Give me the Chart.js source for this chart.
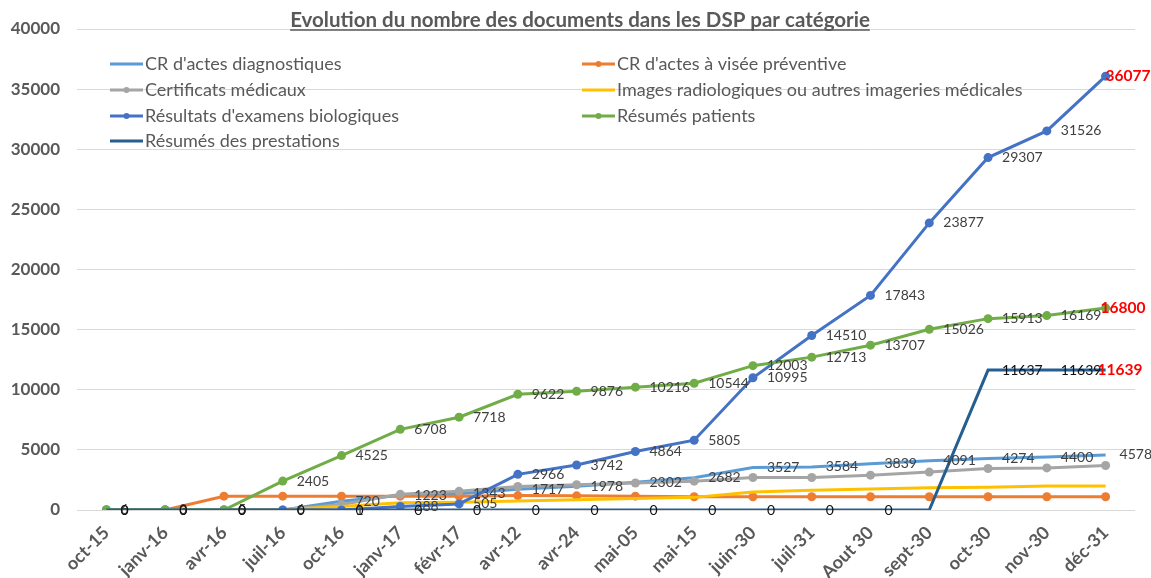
<!DOCTYPE html>
<html>
<head>
<meta charset="utf-8">
<script src="https://cdn.jsdelivr.net/npm/chart.js@4.4.1/dist/chart.umd.min.js"></script>
<style>
    html, body { margin: 0; padding: 0; background: #fff; }
</style>
</head>
<body>
<canvas id="docChart" width="1151" height="578"></canvas>
<script>
// categories
const months = ['oct-15', 'janv-16', 'avr-16', 'juil-16', 'oct-16', 'janv-17', 'févr-17', 'avr-12', 'avr-24',
    'mai-05', 'mai-15', 'juin-30', 'juil-31', 'Aout 30', 'sept-30', 'oct-30', 'nov-30', 'déc-31'];

// series
const crDiagnostiques = [0, 0, 0, 0, 720, 1223, 1343, 1717, 1978, 2302, 2682, 3527, 3584, 3839, 4091, 4274, 4400, 4578];
const crPreventive = [0, 0, 1150, 1150, 1150, 1150, 1150, 1200, 1180, 1150, 1100, 1100, 1100, 1100, 1100, 1100, 1100, 1100];
const certificats = [0, 0, 0, 0, 450, 1300, 1550, 1950, 2100, 2250, 2400, 2700, 2700, 2900, 3150, 3450, 3500, 3700];
const images = [0, 0, 0, 50, 300, 600, 650, 750, 850, 950, 1050, 1500, 1650, 1750, 1850, 1900, 2000, 2000];
const biologiques = [6, 3, 5, 6, 1, 288, 505, 2966, 3742, 4864, 5805, 10995, 14510, 17843, 23877, 29307, 31526, 36077];
const resumesPatients = [0, 0, 0, 2405, 4525, 6708, 7718, 9622, 9876, 10216, 10544, 12003, 12713, 13707, 15026, 15913, 16169, 16800];
const prestations = [0, 0, 0, 0, 0, 0, 0, 0, 0, 0, 0, 0, 0, 0, 0, 11637, 11639, 11639];

// y axis
const yMin = 0;
const yMax = 40000;
const yStep = 5000;

const FONT = 'Lato, "Open Sans", sans-serif';

function makeSeries(label, data, color, markers, order, extra) {
    return Object.assign({
        label: label,
        data: data,
        borderColor: color,
        backgroundColor: color,
        borderWidth: 3,
        pointRadius: markers ? 4.5 : 0,
        pointBorderWidth: 0,
        pointBackgroundColor: color,
        hasMarker: markers,
        tension: 0,
        order: order
    }, extra || {});
}

const datasets = [
    makeSeries("CR d'actes diagnostiques", crDiagnostiques, '#5B9BD5', false, 6,
        { showValues: true, labelFrom: 4 }),
    makeSeries("CR d'actes à visée préventive", crPreventive, '#ED7D31', true, 5),
    makeSeries('Certificats médicaux', certificats, '#A5A5A5', true, 4),
    makeSeries('Images radiologiques ou autres imageries médicales', images, '#FFC000', false, 3),
    makeSeries("Résultats d'examens biologiques", biologiques, '#4472C4', true, 2,
        { showValues: true, labelFrom: 0, redLast: true, lastOffset: 0 }),
    makeSeries('Résumés patients', resumesPatients, '#70AD47', true, 1,
        { showValues: true, labelFrom: 0, redLast: true, lastOffset: -5 }),
    makeSeries('Résumés des prestations', prestations, '#255E91', false, 0,
        { showValues: true, labelFrom: 0, labelSkip: [14], labelColor: '#111', redLast: true, lastOffset: -8 })
];

// value labels right of the points
const valueLabels = {
    id: 'valueLabels',
    afterDatasetsDraw(chart) {
        const ctx = chart.ctx;
        chart.data.datasets.forEach((ds, i) => {
            if (!ds.showValues) return;
            const meta = chart.getDatasetMeta(i);
            meta.data.forEach((pt, j) => {
                if (j < ds.labelFrom || (ds.labelSkip || []).includes(j)) return;
                const last = ds.redLast && j === ds.data.length - 1;
                ctx.save();
                ctx.font = last ? 'bold 15.5px ' + FONT : '14px ' + FONT;
                ctx.fillStyle = last ? '#FF0000' : (ds.labelColor || '#404040');
                ctx.textBaseline = 'middle';
                ctx.textAlign = 'left';
                ctx.fillText(String(ds.data[j]), pt.x + (last ? ds.lastOffset : 14), pt.y);
                ctx.restore();
            });
        });
    }
};

// legend inside the plot, two columns
const insideLegend = {
    id: 'insideLegend',
    afterDraw(chart) {
        const ctx = chart.ctx;
        const colX = [110, 582];
        const rowY = [64, 90, 116, 141];
        chart.data.datasets.forEach((ds, k) => {
            const x = colX[k % 2];
            const y = rowY[Math.floor(k / 2)];
            ctx.save();
            ctx.strokeStyle = ds.borderColor;
            ctx.lineWidth = 3;
            ctx.beginPath();
            ctx.moveTo(x, y);
            ctx.lineTo(x + 33, y);
            ctx.stroke();
            if (ds.hasMarker) {
                ctx.fillStyle = ds.borderColor;
                ctx.beginPath();
                ctx.arc(x + 16.5, y, 3, 0, Math.PI * 2);
                ctx.fill();
            }
            ctx.font = '18px ' + FONT;
            ctx.fillStyle = '#595959';
            ctx.textBaseline = 'middle';
            ctx.fillText(ds.label, x + 35, y);
            ctx.restore();
        });
    }
};

// underlined title
const underlinedTitle = {
    id: 'underlinedTitle',
    afterDraw(chart) {
        const ctx = chart.ctx;
        const text = 'Evolution du nombre des documents dans les DSP par catégorie';
        ctx.save();
        ctx.font = 'bold 20.5px ' + FONT;
        ctx.fillStyle = '#595959';
        ctx.textAlign = 'center';
        ctx.textBaseline = 'alphabetic';
        const cx = 580;
        ctx.fillText(text, cx, 27);
        const w = ctx.measureText(text).width;
        ctx.strokeStyle = '#595959';
        ctx.lineWidth = 1.5;
        ctx.beginPath();
        ctx.moveTo(cx - w / 2, 30);
        ctx.lineTo(cx + w / 2, 30);
        ctx.stroke();
        ctx.restore();
    }
};

const ctx = document.getElementById('docChart');
new Chart(ctx, {
    type: 'line',
    data: { labels: months, datasets: datasets },
    options: {
        responsive: false,
        animation: false,
        devicePixelRatio: 1,
        layout: { padding: { top: 29, right: 16, left: 0, bottom: 0 } },
        plugins: {
            legend: { display: false },
            title: { display: false },
            tooltip: { enabled: false }
        },
        scales: {
            x: {
                offset: true,
                grid: { display: false },
                border: { display: false },
                ticks: {
                    maxRotation: 45,
                    minRotation: 45,
                    autoSkip: false,
                    padding: 4,
                    color: '#595959',
                    font: { family: FONT, size: 18, weight: 'bold' }
                },
                afterFit(scale) { scale.height = 68; }
            },
            y: {
                min: yMin,
                max: yMax,
                grid: { color: '#D9D9D9', lineWidth: 1, drawTicks: false },
                border: { display: false },
                ticks: {
                    stepSize: yStep,
                    padding: 17,
                    color: '#595959',
                    font: { family: FONT, size: 17, weight: 'bold' },
                    callback: v => String(v)
                },
                afterFit(scale) { scale.width = 77; }
            }
        }
    },
    plugins: [valueLabels, insideLegend, underlinedTitle]
});
</script>
</body>
</html>
